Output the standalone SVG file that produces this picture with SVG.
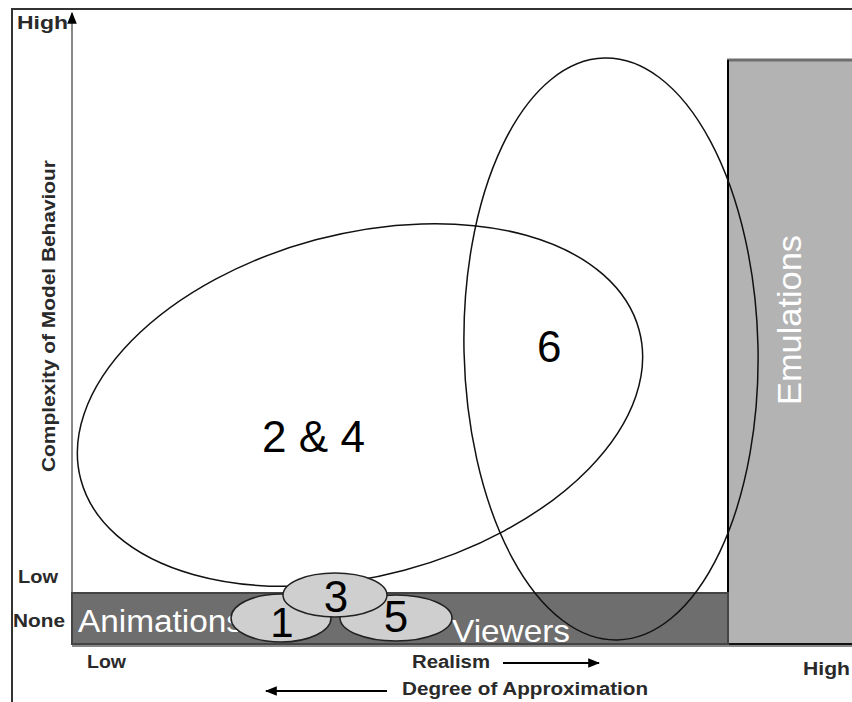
<svg xmlns="http://www.w3.org/2000/svg" width="852" height="702" viewBox="0 0 852 702">
<defs>
<style>
.lbl{font-family:"Liberation Sans",Arial,sans-serif;font-size:18px;font-weight:bold;fill:#2a2a2a}
.big{font-family:"Liberation Sans",Arial,sans-serif;fill:#000}
.wt{font-family:"Liberation Sans",Arial,sans-serif;fill:#fff}
.ell{fill:none;stroke:#111;stroke-width:1.5}
.sm{fill:#cfcfcf;stroke:#222;stroke-width:1.5}
</style>
<marker id="ah" viewBox="0 0 10 10" refX="9" refY="5" markerWidth="6" markerHeight="6" orient="auto"><path d="M0,1 L10,5 L0,9 z" fill="#000"/></marker>
</defs>
<rect width="852" height="702" fill="#fff"/>
<rect x="12" y="9" width="860" height="720" fill="none" stroke="#333" stroke-width="2"/>
<g id="emulations">
<rect x="727" y="60" width="130" height="584" fill="#b3b3b3"/>
<line x1="727" y1="60" x2="852" y2="60" stroke="#6e6e6e" stroke-width="3"/>
<line x1="728" y1="60" x2="728" y2="644" stroke="#000" stroke-width="2"/>
<line x1="727" y1="644" x2="852" y2="644" stroke="#111" stroke-width="2"/>
<line x1="72" y1="646" x2="852" y2="646" stroke="#888" stroke-width="2"/>
<text class="wt" font-size="34" transform="translate(801,320) rotate(-90)" text-anchor="middle" textLength="170" lengthAdjust="spacingAndGlyphs">Emulations</text>
</g>
<g id="bar">
<rect x="72" y="593" width="656" height="51" fill="#6e6e6e" stroke="#444" stroke-width="2"/>
<text class="wt" x="78" y="632" font-size="31" textLength="165" lengthAdjust="spacingAndGlyphs">Animations</text>
<text class="wt" x="452" y="642" font-size="32" textLength="118" lengthAdjust="spacingAndGlyphs">Viewers</text>
</g>
<g id="axes">
<line x1="72" y1="592" x2="72" y2="13" stroke="#888" stroke-width="2" marker-end="url(#ah)"/>
<text class="lbl" x="17" y="29" fill="#555" textLength="51" lengthAdjust="spacingAndGlyphs">High</text>
<text class="lbl" x="18" y="583" textLength="40" lengthAdjust="spacingAndGlyphs">Low</text>
<text class="lbl" x="13" y="627" textLength="52" lengthAdjust="spacingAndGlyphs">None</text>
<text class="lbl" x="87" y="668" textLength="39" lengthAdjust="spacingAndGlyphs">Low</text>
<text class="lbl" x="803" y="675" textLength="47" lengthAdjust="spacingAndGlyphs">High</text>
<text class="lbl" transform="translate(55,316) rotate(-90)" text-anchor="middle" textLength="312" lengthAdjust="spacingAndGlyphs">Complexity of Model Behaviour</text>
<text class="lbl" x="412" y="668" textLength="78" lengthAdjust="spacingAndGlyphs">Realism</text>
<text class="lbl" x="402" y="695" textLength="246" lengthAdjust="spacingAndGlyphs">Degree of Approximation</text>
</g>
<g id="connectors">
<line x1="503" y1="663" x2="599" y2="663" stroke="#000" stroke-width="2" marker-end="url(#ah)"/>
<line x1="387" y1="691" x2="266" y2="691" stroke="#000" stroke-width="2" marker-end="url(#ah)"/>
</g>
<g id="n24">
<ellipse class="ell" cx="360" cy="405" rx="289" ry="171" transform="rotate(-15 360 405)"/>
<text class="big" x="262" y="452" font-size="44" textLength="103" lengthAdjust="spacingAndGlyphs">2 &amp; 4</text>
</g>
<g id="n6">
<ellipse class="ell" cx="611" cy="349" rx="147" ry="291" transform="rotate(-1.3 611 349)"/>
<text class="big" x="537" y="362" font-size="44">6</text>
</g>
<g id="n1">
<ellipse class="sm" cx="281" cy="618" rx="50" ry="24"/>
<text class="big" x="282" y="637" font-size="42" text-anchor="middle">1</text>
</g>
<g id="n5">
<ellipse class="sm" cx="396" cy="618" rx="56" ry="23"/>
<text class="big" x="396" y="632" font-size="44" text-anchor="middle">5</text>
</g>
<g id="n3">
<ellipse class="sm" cx="335" cy="595" rx="52" ry="22"/>
<text class="big" x="336" y="612" font-size="44" text-anchor="middle">3</text>
</g>
</svg>
